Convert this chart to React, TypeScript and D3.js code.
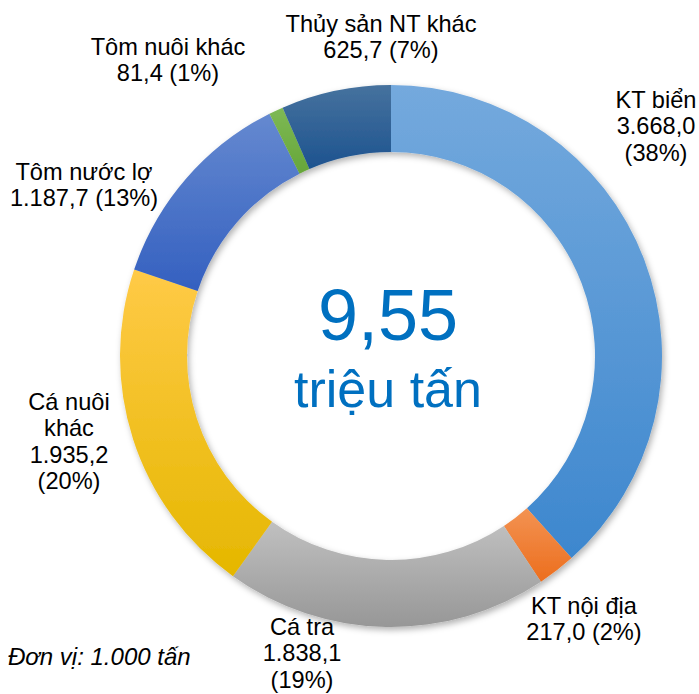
import React from "react";
import * as d3 from "d3";

const categories = ["KT biển", "KT nội địa", "Cá tra", "Cá nuôi khác", "Tôm nước lợ", "Tôm nuôi khác", "Thủy sản NT khác"];
const values = [3668.0, 217.0, 1838.1, 1935.2, 1187.7, 81.4, 625.7];
const percentLabels = ["38%", "2%", "19%", "20%", "13%", "1%", "7%"];
const valueLabels = ["3.668,0", "217,0", "1.838,1", "1.935,2", "1.187,7", "81,4", "625,7"];
const totalLabel = "9,55";
const totalUnit = "triệu tấn";
const unitNote = "Đơn vị: 1.000 tấn";

// colours (top, bottom) per slice
const gradTop = ["#74a9dd", "#f39352", "#c0c0c0", "#ffca47", "#6589d0", "#7eb955", "#46729e"];
const gradBottom = ["#3d87ce", "#ec6e1e", "#979797", "#e5b700", "#3460c0", "#66a639", "#1d538f"];

// label line layout: lines built from data, positions are layout only
const labelLines: string[][] = [
  [categories[0], valueLabels[0], `(${percentLabels[0]})`],
  [categories[1], `${valueLabels[1]} (${percentLabels[1]})`],
  [categories[2], valueLabels[2], `(${percentLabels[2]})`],
  ["Cá nuôi", "khác", valueLabels[3], `(${percentLabels[3]})`],
  [categories[4], `${valueLabels[4]} (${percentLabels[4]})`],
  [categories[5], `${valueLabels[5]} (${percentLabels[5]})`],
  [categories[6], `${valueLabels[6]} (${percentLabels[6]})`],
];
const labelPos = [
  { x: 656, y: 108 },
  { x: 584, y: 614 },
  { x: 302, y: 635 },
  { x: 69, y: 410 },
  { x: 84, y: 180 },
  { x: 168, y: 55 },
  { x: 381, y: 32 },
];

export default function App() {
  const W = 699, H = 694;
  const cx = 391, cy = 356, R = 271, r = 204;
  const pie = d3.pie<number>().sort(null).value((d) => d).startAngle(0).endAngle(2 * Math.PI);
  const arcs = pie(values);
  const arc = d3.arc<d3.PieArcDatum<number>>().innerRadius(r).outerRadius(R);
  const font = "'Liberation Sans', Arial, sans-serif";
  const lh = 26.3;
  return (
    <div style={{ position: "absolute", left: 0, top: 0 }}>
      <svg width={W} height={H} viewBox={`0 0 ${W} ${H}`} style={{ display: "block", background: "#fff" }}>
        <defs>
          {arcs.map((a, i) => (
            <linearGradient key={i} id={`g${i}`} x1="0" y1="0" x2="0" y2="1">
              <stop offset="0%" stopColor={gradTop[i]} />
              <stop offset="100%" stopColor={gradBottom[i]} />
            </linearGradient>
          ))}
          <filter id="sh" x="-20%" y="-20%" width="140%" height="140%">
            <feDropShadow dx="2" dy="3" stdDeviation="3" floodColor="#000" floodOpacity="0.3" />
          </filter>
        </defs>
        <g transform={`translate(${cx},${cy})`} filter="url(#sh)">
          {arcs.map((a, i) => (
            <path key={i} d={arc(a) || ""} fill={`url(#g${i})`} />
          ))}
        </g>
        <text x={388} y={340} textAnchor="middle" fontFamily={font} fontSize={72} fill="#0070c0">{totalLabel}</text>
        <text x={388} y={407} textAnchor="middle" fontFamily={font} fontSize={52} fill="#0070c0">{totalUnit}</text>
        {labelLines.map((lines, i) => (
          <text key={i} x={labelPos[i].x} y={labelPos[i].y} textAnchor="middle" fontFamily={font} fontSize={23.6} fill="#000">
            {lines.map((l, j) => (
              <tspan key={j} x={labelPos[i].x} dy={j === 0 ? 0 : lh}>{l}</tspan>
            ))}
          </text>
        ))}
        <text x={8} y={665} fontFamily={font} fontSize={24} fontStyle="italic" fill="#000">{unitNote}</text>
      </svg>
    </div>
  );
}
